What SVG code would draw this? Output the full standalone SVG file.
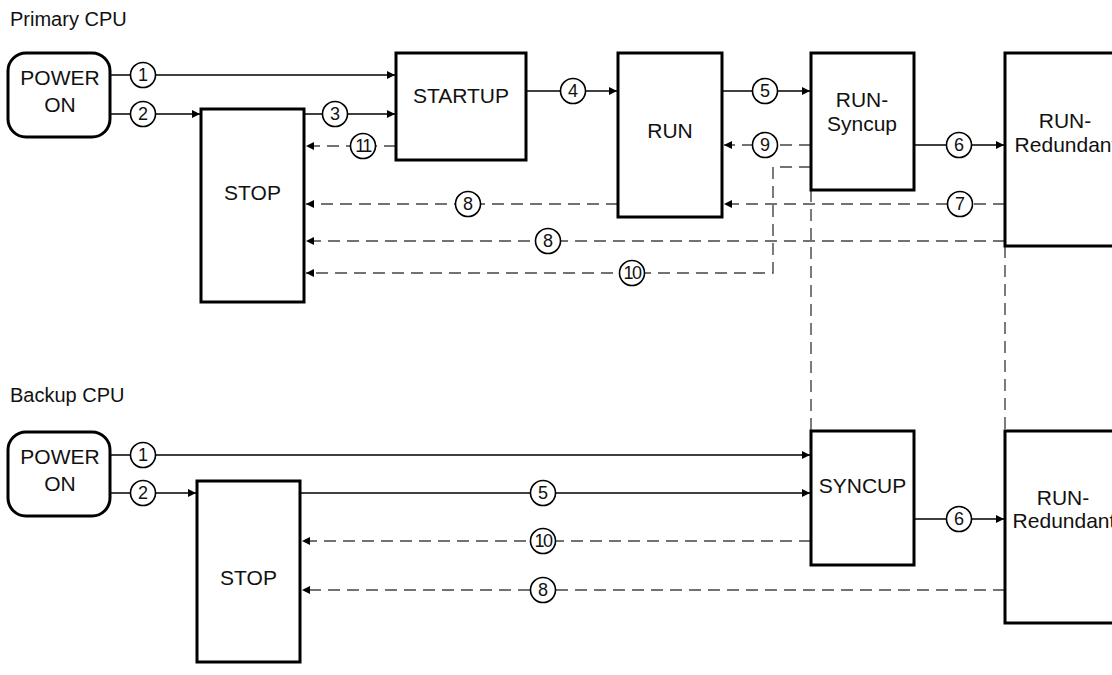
<svg xmlns="http://www.w3.org/2000/svg" width="1112" height="675" viewBox="0 0 1112 675">
<defs>
<marker id="ah" viewBox="0 0 10 10" refX="10" refY="5" markerWidth="9" markerHeight="8" markerUnits="userSpaceOnUse" orient="auto">
<path d="M0,0 L10,5 L0,10 Z" fill="#000"/>
</marker>
<style>
.box{fill:#fff;stroke:#000;stroke-width:3}
.t{font-family:"Liberation Sans",Arial,sans-serif;font-size:21px;fill:#111;text-anchor:middle}
.title{font-family:"Liberation Sans",Arial,sans-serif;font-size:20px;fill:#111}
.s{fill:none;stroke:#000;stroke-width:1.4}
.d{fill:none;stroke:#444;stroke-width:1.4;stroke-dasharray:12 7}
.c{fill:#fff;stroke:#000;stroke-width:1.6}
.n{font-family:"Liberation Sans",Arial,sans-serif;font-size:18px;fill:#111;text-anchor:middle;dominant-baseline:central}
</style>
</defs>
<rect width="1112" height="675" fill="#fff"/>
<text class="title" x="10" y="26">Primary CPU</text>
<text class="title" x="10" y="402">Backup CPU</text>

<g id="connectors">
<!-- primary -->
<line class="s" x1="110" y1="75" x2="395" y2="75" marker-end="url(#ah)"/>
<line class="s" x1="110" y1="114" x2="200" y2="114" marker-end="url(#ah)"/>
<line class="s" x1="304" y1="114" x2="395" y2="114" marker-end="url(#ah)"/>
<line class="d" x1="396" y1="146" x2="306" y2="146" marker-end="url(#ah)"/>
<line class="s" x1="526" y1="91" x2="617" y2="91" marker-end="url(#ah)"/>
<line class="s" x1="722" y1="91" x2="810" y2="91" marker-end="url(#ah)"/>
<line class="d" x1="811" y1="145" x2="724" y2="145" marker-end="url(#ah)"/>
<line class="s" x1="914" y1="145" x2="1004" y2="145" marker-end="url(#ah)"/>
<line class="d" x1="1005" y1="204" x2="724" y2="204" marker-end="url(#ah)"/>
<line class="d" x1="618" y1="204" x2="306" y2="204" marker-end="url(#ah)"/>
<line class="d" x1="1005" y1="241" x2="306" y2="241" marker-end="url(#ah)"/>
<path class="d" d="M811,167 H773 V273 H306" marker-end="url(#ah)"/>
<line class="d" x1="811" y1="190" x2="811" y2="431"/>
<line class="d" x1="1005" y1="246" x2="1005" y2="431"/>
<!-- backup -->
<line class="s" x1="110" y1="455" x2="810" y2="455" marker-end="url(#ah)"/>
<line class="s" x1="110" y1="493" x2="196" y2="493" marker-end="url(#ah)"/>
<line class="s" x1="300" y1="493" x2="810" y2="493" marker-end="url(#ah)"/>
<line class="d" x1="811" y1="541" x2="302" y2="541" marker-end="url(#ah)"/>
<line class="s" x1="914" y1="519" x2="1004" y2="519" marker-end="url(#ah)"/>
<line class="d" x1="1005" y1="590" x2="302" y2="590" marker-end="url(#ah)"/>
<!-- number circles -->
<circle class="c" cx="143" cy="75" r="12.5"/><text class="n" x="143" y="75">1</text>
<circle class="c" cx="143" cy="114" r="12.5"/><text class="n" x="143" y="114">2</text>
<circle class="c" cx="335" cy="114" r="12.5"/><text class="n" x="335" y="114">3</text>
<circle class="c" cx="363" cy="146" r="12.5"/><text class="n" x="363" y="146" letter-spacing="-1.5">11</text>
<circle class="c" cx="573" cy="91" r="12.5"/><text class="n" x="573" y="91">4</text>
<circle class="c" cx="765" cy="91" r="12.5"/><text class="n" x="765" y="91">5</text>
<circle class="c" cx="765" cy="145" r="12.5"/><text class="n" x="765" y="145">9</text>
<circle class="c" cx="959" cy="145" r="12.5"/><text class="n" x="959" y="145">6</text>
<circle class="c" cx="960" cy="204" r="12.5"/><text class="n" x="960" y="204">7</text>
<circle class="c" cx="468" cy="204" r="12.5"/><text class="n" x="468" y="204">8</text>
<circle class="c" cx="548" cy="241" r="12.5"/><text class="n" x="548" y="241">8</text>
<circle class="c" cx="632" cy="273" r="12.5"/><text class="n" x="632" y="273" letter-spacing="-1.5">10</text>
<circle class="c" cx="143" cy="455" r="12.5"/><text class="n" x="143" y="455">1</text>
<circle class="c" cx="143" cy="493" r="12.5"/><text class="n" x="143" y="493">2</text>
<circle class="c" cx="543" cy="493" r="12.5"/><text class="n" x="543" y="493">5</text>
<circle class="c" cx="543" cy="541" r="12.5"/><text class="n" x="543" y="541" letter-spacing="-1.5">10</text>
<circle class="c" cx="543" cy="590" r="12.5"/><text class="n" x="543" y="590">8</text>
<circle class="c" cx="959" cy="519" r="12.5"/><text class="n" x="959" y="519">6</text>
</g>

<g id="p-poweron"><rect class="box" x="8" y="53" width="102" height="84" rx="18"/><text class="t" x="60" y="85">POWER</text><text class="t" x="60" y="112">ON</text></g>
<g id="p-stop"><rect class="box" x="201" y="109" width="103" height="193"/><text class="t" x="252.5" y="200">STOP</text></g>
<g id="p-startup"><rect class="box" x="396" y="53" width="130" height="107"/><text class="t" x="461" y="103">STARTUP</text></g>
<g id="p-run"><rect class="box" x="618" y="53" width="104" height="164"/><text class="t" x="670" y="138">RUN</text></g>
<g id="p-runsyncup"><rect class="box" x="811" y="53" width="103" height="137"/><text class="t" x="862" y="107">RUN-</text><text class="t" x="862" y="131">Syncup</text></g>
<g id="p-runredundant"><rect class="box" x="1005" y="53" width="120" height="193"/><text class="t" x="1065" y="128">RUN-</text><text class="t" x="1066" y="152">Redundant</text></g>

<g id="b-poweron"><rect class="box" x="8" y="432" width="102" height="84" rx="18"/><text class="t" x="60" y="464">POWER</text><text class="t" x="60" y="491">ON</text></g>
<g id="b-stop"><rect class="box" x="197" y="481" width="103" height="181"/><text class="t" x="248.5" y="585">STOP</text></g>
<g id="b-syncup"><rect class="box" x="811" y="431" width="103" height="134"/><text class="t" x="862.5" y="493">SYNCUP</text></g>
<g id="b-runredundant"><rect class="box" x="1005" y="431" width="120" height="192"/><text class="t" x="1063" y="505">RUN-</text><text class="t" x="1064" y="528">Redundant</text></g>
</svg>
